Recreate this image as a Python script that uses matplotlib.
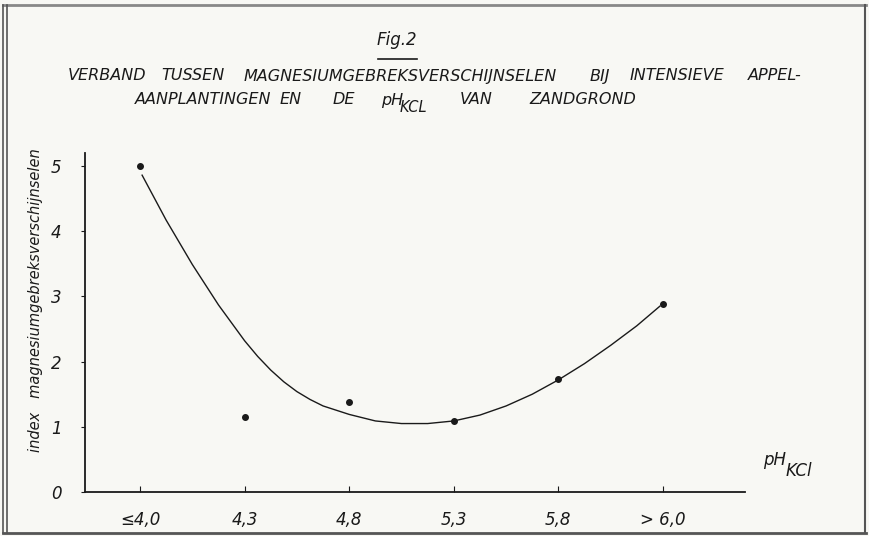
import matplotlib
matplotlib.use('Agg')
import matplotlib.pyplot as plt
from matplotlib.lines import Line2D

# -- data --
ph_labels = ['≤4,0', '4,3', '4,8', '5,3', '5,8', '> 6,0']
index_values = [5.0, 1.15, 1.38, 1.09, 1.74, 2.88]

# hand drawn trend curve, read along the category axis
curve_pos = [0.02, 0.25, 0.5, 0.75, 1.0, 1.125, 1.25, 1.375, 1.5, 1.625, 1.75, 2.0,
             2.25, 2.5, 2.75, 3.0, 3.25, 3.5, 3.75, 4.0, 4.25, 4.5, 4.75, 4.97]
curve_vals = [4.86, 4.17, 3.49, 2.87, 2.32, 2.08, 1.87, 1.69, 1.54, 1.42, 1.32, 1.19,
              1.09, 1.05, 1.05, 1.09, 1.18, 1.32, 1.50, 1.72, 1.97, 2.25, 2.55, 2.85]

W, H = 869, 536
bg = '#f8f8f4'
ink = '#1a1a1a'

plt.rcParams['font.family'] = ['DejaVu Sans']

fig = plt.figure(figsize=(W / 100, H / 100), dpi=100, facecolor=bg)


def fx(px):
    return px / W


def fy(py):
    return 1 - py / H


def word(px, py, s, size=11.5):
    fig.text(fx(px), fy(py), s, fontstyle='italic', fontsize=size, color=ink, va='center')


ax = fig.add_axes([fx(85), fy(492), fx(745) - fx(85), fy(153) - fy(492)])
ax.set_facecolor(bg)

x = list(range(len(ph_labels)))
ax.plot(curve_pos, curve_vals, color=ink, lw=1.0, solid_joinstyle='round')
ax.plot(x, index_values, 'o', color=ink, markersize=4)

ax.set_xlim(-0.526, 5.784)
ax.set_ylim(0, 5.2)
ax.spines['top'].set_visible(False)
ax.spines['right'].set_visible(False)
for side in ['left', 'bottom']:
    ax.spines[side].set_color(ink)
    ax.spines[side].set_linewidth(1.3)

ax.set_xticks(x)
ax.set_xticklabels(ph_labels, fontstyle='italic', fontsize=12, color=ink)
ax.tick_params(axis='x', direction='in', length=4, pad=14, color=ink)
ax.set_yticks(range(6))
ax.set_yticklabels([str(i) for i in range(6)], fontstyle='italic', fontsize=12, color=ink)
ax.tick_params(axis='y', direction='out', length=3, pad=14, color=ink)

# y axis title
fig.text(fx(36), fy(300), 'index   magnesiumgebreksverschijnselen', rotation=90,
         fontstyle='italic', fontsize=10.5, color=ink, ha='center', va='center')

# x axis title  pH with subscript KCl
word(763, 460, 'pH', 12)
word(786, 471, 'KCl', 12)

# figure number
fig.text(fx(397), fy(40), 'Fig.2', fontstyle='italic', fontsize=12, color=ink,
         ha='center', va='center')
fig.add_artist(Line2D([fx(378), fx(417)], [fy(59), fy(59)], color=ink, lw=1.2))

# title, first line
word(68, 76, 'VERBAND')
word(161, 76, 'TUSSEN')
word(244, 76, 'MAGNESIUMGEBREKSVERSCHIJNSELEN')
word(590, 76, 'BIJ')
word(630, 76, 'INTENSIEVE')
word(748, 76, 'APPEL-')

# title, second line
word(135, 100, 'AANPLANTINGEN')
word(280, 100, 'EN')
word(333, 100, 'DE')
word(381, 100, 'pH')
word(400, 107, 'KCL', 10.5)
word(460, 100, 'VAN')
word(529, 100, 'ZANDGROND')

# frame of the scanned figure
frame = '#555555'
fig.add_artist(Line2D([fx(3), fx(866)], [fy(5), fy(5)], color='#888888', lw=2))
fig.add_artist(Line2D([fx(3), fx(866)], [fy(533), fy(533)], color=frame, lw=2))
fig.add_artist(Line2D([fx(3), fx(3)], [fy(5), fy(533)], color=frame, lw=1.2))
fig.add_artist(Line2D([fx(7), fx(7)], [fy(5), fy(533)], color=frame, lw=1.2))
fig.add_artist(Line2D([fx(865), fx(865)], [fy(5), fy(533)], color=frame, lw=1.5))

fig.savefig('out.png', dpi=100, facecolor=bg)
